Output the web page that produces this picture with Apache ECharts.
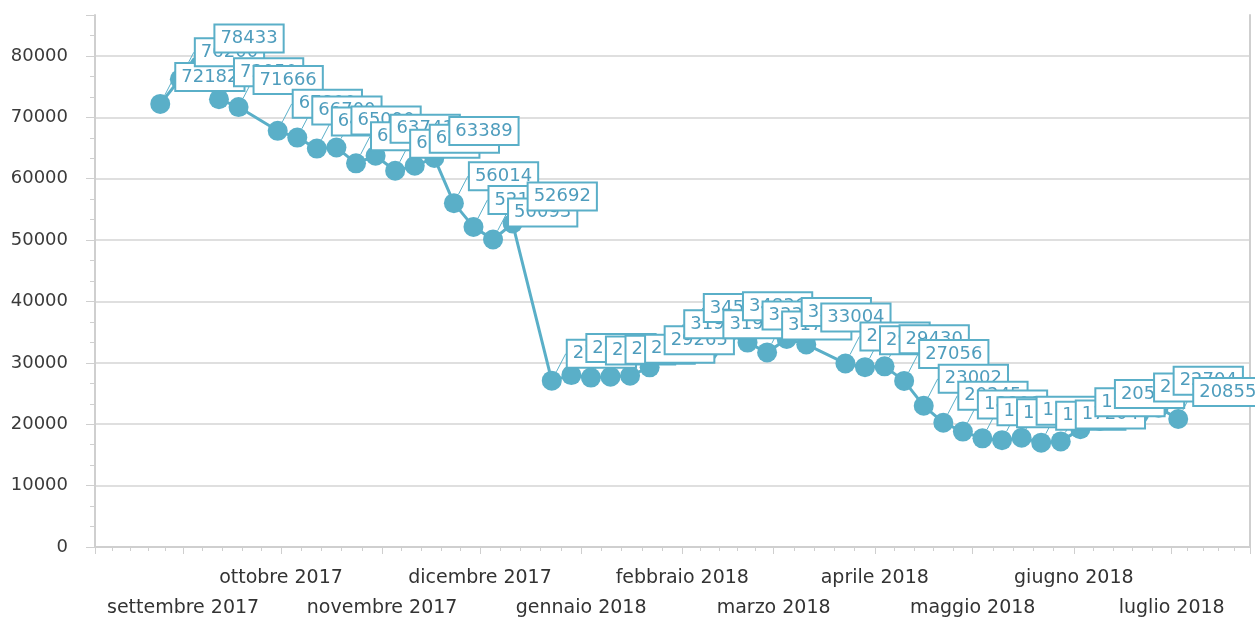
<!DOCTYPE html>
<html>
<head>
<meta charset="utf-8">
<script src="https://cdn.jsdelivr.net/npm/echarts@6/dist/echarts.min.js"></script>
<style>
  html, body { margin: 0; padding: 0; background: #fff; }
  #chart { width: 1255px; height: 620px; }
</style>
</head>
<body>
<div id="chart"></div>
<script>
// weekly readings (one point every 6 days, a few weeks missing)
const weekDates = [
  '2017-08-25', '2017-08-31', '2017-09-06', '2017-09-12', '2017-09-18',
  '2017-09-30', '2017-10-06', '2017-10-12', '2017-10-18', '2017-10-24',
  '2017-10-30', '2017-11-05', '2017-11-11', '2017-11-17', '2017-11-23',
  '2017-11-29', '2017-12-05', '2017-12-11',
  '2017-12-23', '2017-12-29', '2018-01-04', '2018-01-10', '2018-01-16',
  '2018-01-22', '2018-01-28', '2018-02-03', '2018-02-09', '2018-02-15',
  '2018-02-21', '2018-02-27', '2018-03-05', '2018-03-11',
  '2018-03-23', '2018-03-29', '2018-04-04', '2018-04-10', '2018-04-16',
  '2018-04-22', '2018-04-28', '2018-05-04', '2018-05-10', '2018-05-16',
  '2018-05-22', '2018-05-28', '2018-06-03', '2018-06-09',
  '2018-06-21', '2018-06-27', '2018-07-03'
]
const weekValues = [
  72182, 76200, 78433, 72950, 71666,
  67800, 66700, 64900, 65090, 62500,
  63741, 61300, 62100, 63389, 56014,
  52150, 50093, 52692,
  27100, 28000, 27600, 27755, 27900,
  29265, 31900, 34550, 31900, 34836,
  33300, 31700, 33900, 33004,
  29900, 29300, 29430, 27056, 23002,
  20245, 18800, 17700, 17400, 17800,
  17000, 17204, 19200, 20540,
  21600, 22704, 20855
]
const monthNames = ['gennaio', 'febbraio', 'marzo', 'aprile', 'maggio', 'giugno',
  'luglio', 'agosto', 'settembre', 'ottobre', 'novembre', 'dicembre']

const xMin = '2017-08-05'
const xMax = '2018-07-25'
const yMin = 0
const yMax = 86667
const yStep = 10000

const teal = '#5aafc8'
const DAY = 24 * 3600 * 1000

const chart = echarts.init(document.getElementById('chart'))

chart.setOption({
  animation: false,
  textStyle: { fontFamily: 'DejaVu Sans' },
  grid: { left: 95, right: 5, top: 15, bottom: 73, outerBoundsMode: 'none', containLabel: false },
  xAxis: {
    type: 'time',
    min: xMin,
    max: xMax,
    splitNumber: 12,
    minInterval: 28 * DAY,
    maxInterval: 31 * DAY,
    axisLine: { lineStyle: { color: '#cfcfcf', width: 2 } },
    axisTick: { show: true, length: 7, lineStyle: { color: '#cfcfcf' } },
    minorTick: { show: true, splitNumber: 5, length: 4, lineStyle: { color: '#cfcfcf' } },
    splitLine: { show: false },
    axisLabel: {
      color: '#333',
      fontSize: 19,
      lineHeight: 30,
      margin: 16,
      showMinLabel: false,
      showMaxLabel: false,
      hideOverlap: false,
      formatter: function (value) {
        const d = new Date(value)
        const m = d.getMonth()
        const txt = monthNames[m] + ' ' + d.getFullYear()
        // alternate months go on the second row
        return m % 2 === 0 ? '\n' + txt : txt
      }
    }
  },
  yAxis: [{
    type: 'value',
    min: yMin,
    max: yMax,
    interval: yStep,
    axisLine: { show: true, lineStyle: { color: '#cfcfcf', width: 2 } },
    axisTick: { show: true, length: 9, lineStyle: { color: '#cfcfcf' } },
    minorTick: { show: true, splitNumber: 3, length: 5, lineStyle: { color: '#cfcfcf' } },
    splitLine: { show: true, showMaxLine: false, lineStyle: { color: '#d4d4d4', width: 1.5 } },
    axisLabel: {
      color: '#3a3a3a',
      fontSize: 18,
      margin: 27,
      showMaxLabel: false,
      formatter: v => String(v)
    }
  }, {
    type: 'value',
    position: 'right',
    min: yMin,
    max: yMax,
    axisLine: { show: true, lineStyle: { color: '#cfcfcf', width: 2 } },
    axisTick: { show: false },
    axisLabel: { show: false },
    splitLine: { show: false }
  }],
  series: [{
    type: 'line',
    data: weekDates.map((d, i) => [d, weekValues[i]]),
    symbol: 'circle',
    symbolSize: 20,
    lineStyle: { color: teal, width: 3 },
    itemStyle: { color: teal },
    label: {
      show: true,
      position: 'right',
      distance: 6,
      color: '#4f9dbd',
      fontSize: 18,
      lineHeight: 22,
      backgroundColor: '#fff',
      borderColor: teal,
      borderWidth: 2,
      padding: [2, 5]
    },
    labelLayout: { dy: -27 },
    labelLine: { show: true, lineStyle: { color: teal, width: 1 } }
  }]
})
</script>
</body>
</html>
